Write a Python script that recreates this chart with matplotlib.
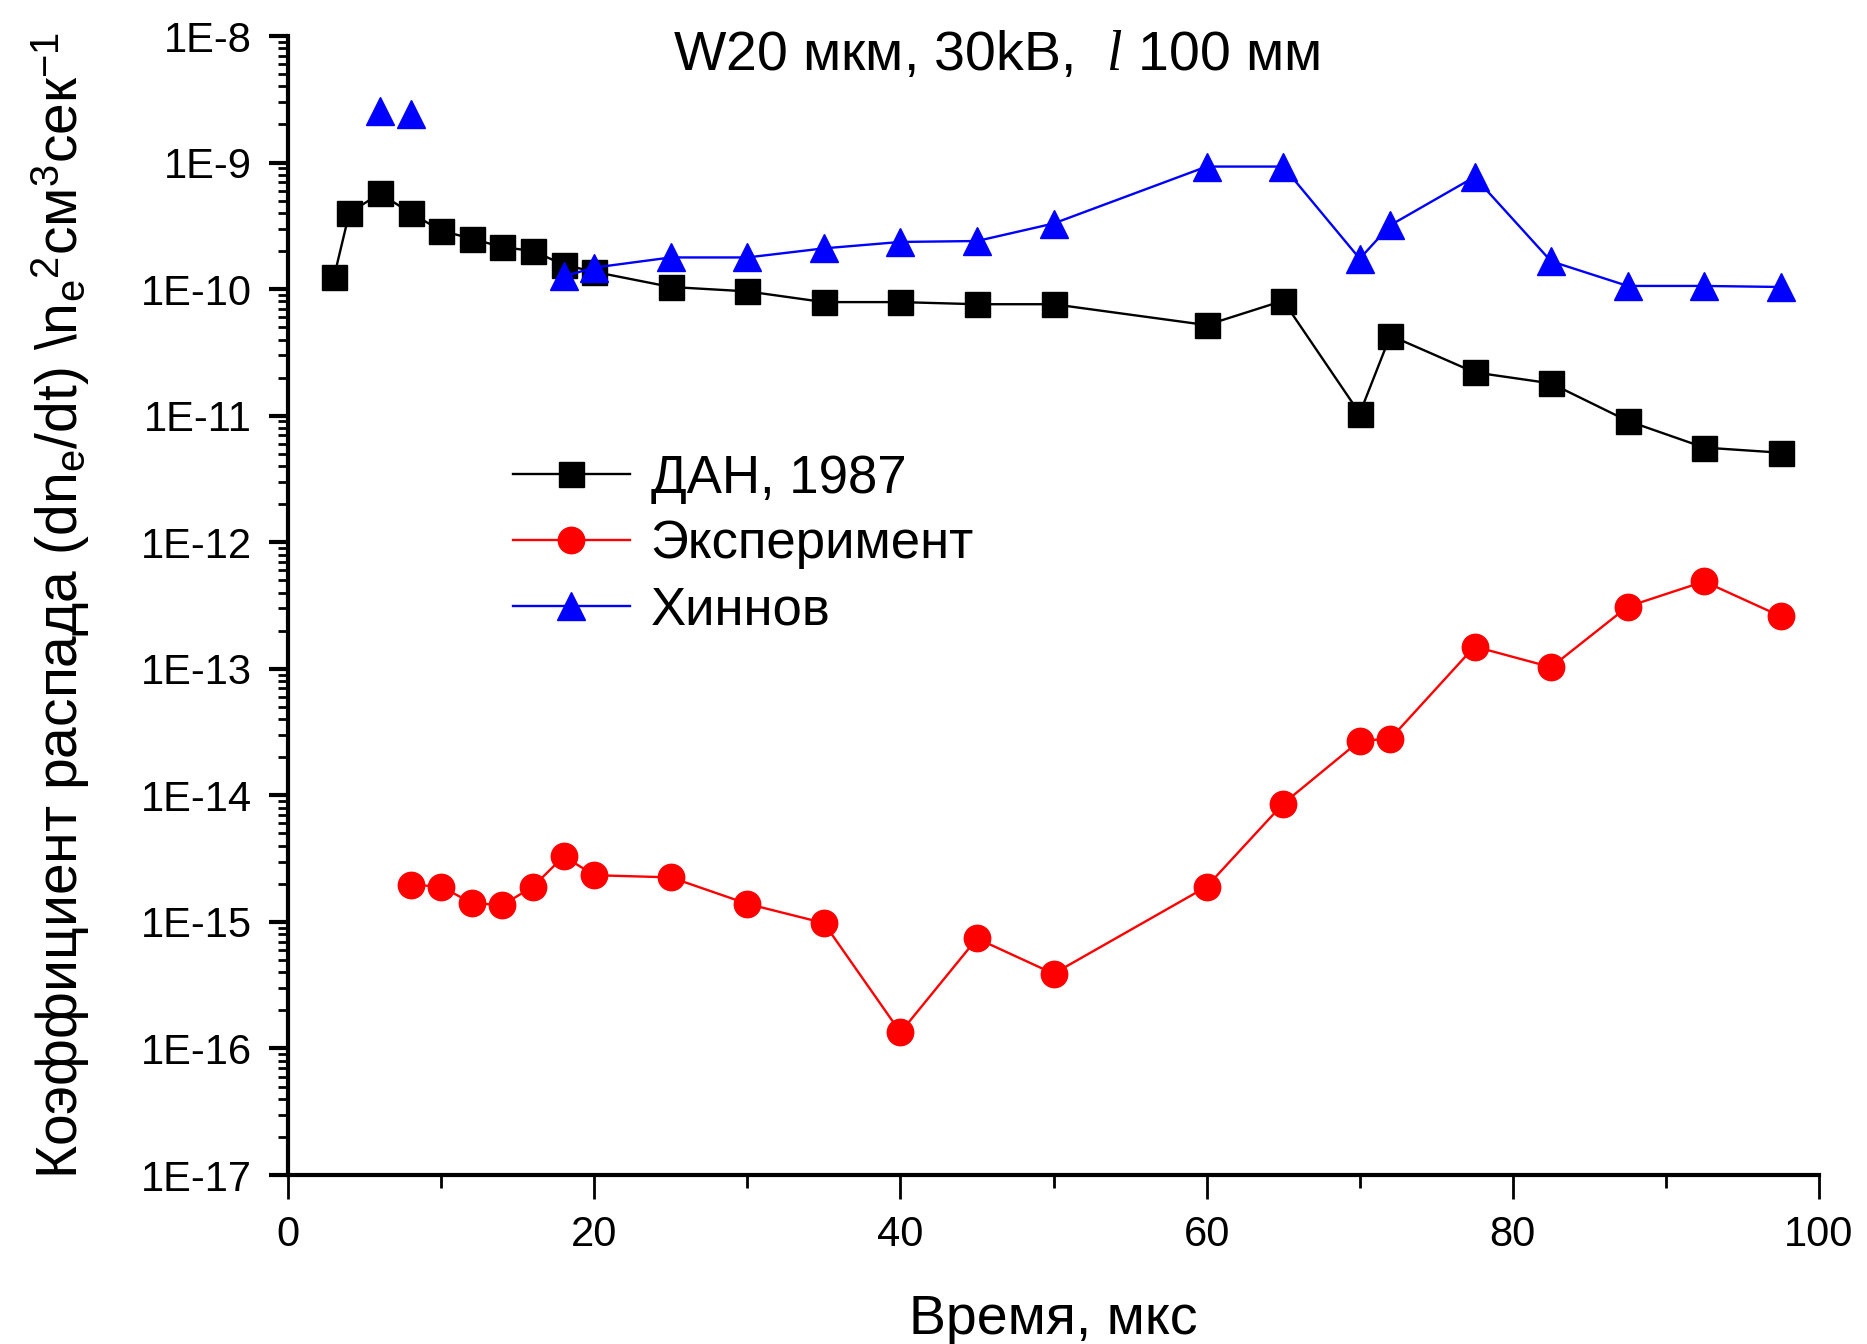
import matplotlib
matplotlib.use("Agg")
import matplotlib.pyplot as plt
import matplotlib.ticker as ticker
import numpy as np

# data
t_dan = [3, 4, 6, 8, 10, 12, 14, 16, 18, 20, 25, 30, 35, 40, 45, 50, 60, 65, 70, 72, 77.5, 82.5, 87.5, 92.5, 97.5]
k_dan = [1.25e-10, 4.0e-10, 5.7e-10, 4.0e-10, 2.9e-10, 2.5e-10, 2.15e-10, 2.0e-10, 1.56e-10, 1.37e-10,
         1.04e-10, 9.6e-11, 7.9e-11, 7.9e-11, 7.6e-11, 7.6e-11, 5.2e-11, 8.1e-11, 1.04e-11, 4.3e-11,
         2.2e-11, 1.8e-11, 9.1e-12, 5.6e-12, 5.1e-12]

t_exp = [8, 10, 12, 14, 16, 18, 20, 25, 30, 35, 40, 45, 50, 60, 65, 70, 72, 77.5, 82.5, 87.5, 92.5, 97.5]
k_exp = [1.97e-15, 1.9e-15, 1.41e-15, 1.36e-15, 1.9e-15, 3.3e-15, 2.34e-15, 2.25e-15, 1.39e-15, 9.8e-16,
         1.34e-16, 7.4e-16, 3.9e-16, 1.9e-15, 8.6e-15, 2.7e-14, 2.8e-14, 1.5e-13, 1.03e-13, 3.1e-13,
         4.9e-13, 2.6e-13]

# Хиннов: first two points are not joined to the rest
t_hin_a = [6, 8]
k_hin_a = [2.55e-9, 2.4e-9]
t_hin = [18, 20, 25, 30, 35, 40, 45, 50, 60, 65, 70, 72, 77.5, 82.5, 87.5, 92.5, 97.5]
k_hin = [1.26e-10, 1.48e-10, 1.78e-10, 1.78e-10, 2.1e-10, 2.36e-10, 2.4e-10, 3.3e-10,
         9.3e-10, 9.3e-10, 1.74e-10, 3.2e-10, 7.7e-10, 1.66e-10, 1.06e-10, 1.06e-10, 1.04e-10]

labels = ["ДАН, 1987", "Эксперимент", "Хиннов"]
x_ticks = [0, 20, 40, 60, 80, 100]

plt.rcParams['font.family'] = ['Liberation Sans', 'DejaVu Sans']
plt.rcParams['mathtext.fontset'] = 'custom'
plt.rcParams['mathtext.rm'] = 'Liberation Sans'
plt.rcParams['mathtext.it'] = 'Liberation Serif:italic'

fig = plt.figure(figsize=(18.67, 13.44), dpi=100)
ax = fig.add_axes([0.1543, 0.1257, 0.82, 0.8475])

ax.plot(t_dan, k_dan, color='black', lw=1.7, marker='s', ms=18, label=labels[0])
ax.plot(t_exp, k_exp, color='#ff0000', lw=1.7, marker='o', ms=19, label=labels[1])
ax.plot(t_hin, k_hin, color='#0000ff', lw=1.7, marker='^', ms=20, label=labels[2])
ax.plot(t_hin_a, k_hin_a, color='#0000ff', lw=0, marker='^', ms=20)

ax.set_yscale('log')
ax.set_ylim(1e-17, 1e-8)
ax.set_xlim(0, 100)
ax.set_xticks(x_ticks)
ax.xaxis.set_minor_locator(ticker.MultipleLocator(10))
ax.yaxis.set_major_locator(ticker.LogLocator(base=10, numticks=20))
ax.yaxis.set_minor_locator(ticker.LogLocator(base=10, subs=np.arange(2, 10), numticks=20))
ax.yaxis.set_minor_formatter(ticker.NullFormatter())
ax.yaxis.set_major_formatter(ticker.FuncFormatter(lambda v, p: "1E%d" % round(np.log10(v))))

for s in ['top', 'right']:
    ax.spines[s].set_visible(False)
for s in ['left', 'bottom']:
    ax.spines[s].set_linewidth(3)

ax.tick_params(axis='y', which='major', direction='out', length=14, width=3, labelsize=30, pad=12)
ax.tick_params(axis='y', which='minor', direction='out', length=7, width=2)
ax.tick_params(axis='x', which='major', direction='out', length=17, width=2, labelsize=30, pad=12)
ax.tick_params(axis='x', which='minor', direction='out', length=9, width=2)

ax.set_xlabel("Время, мкс", fontsize=40)
ax.xaxis.set_label_coords(0.5, -0.104)
ax.set_ylabel("Коэффициент распада (dn$_\\mathregular{e}$/dt) \\n$_\\mathregular{e}$$^\\mathregular{2}$см$^\\mathregular{3}$сек$^\\mathregular{-1}$",
              fontsize=41)
ax.yaxis.set_label_coords(-0.128, 0.5)

fig.text(0.534, 0.958, "W20 мкм, 30kB,  $\\mathit{l}$ 100 мм", fontsize=40, ha='center', va='center')

ax.legend(loc='upper left', bbox_to_anchor=(0.275, 0.6625), bbox_transform=fig.transFigure,
          frameon=False, fontsize=38, handlelength=2.2, handletextpad=0.4,
          labelspacing=0.3, borderpad=0, borderaxespad=0)

fig.savefig("out.png", dpi=100)
